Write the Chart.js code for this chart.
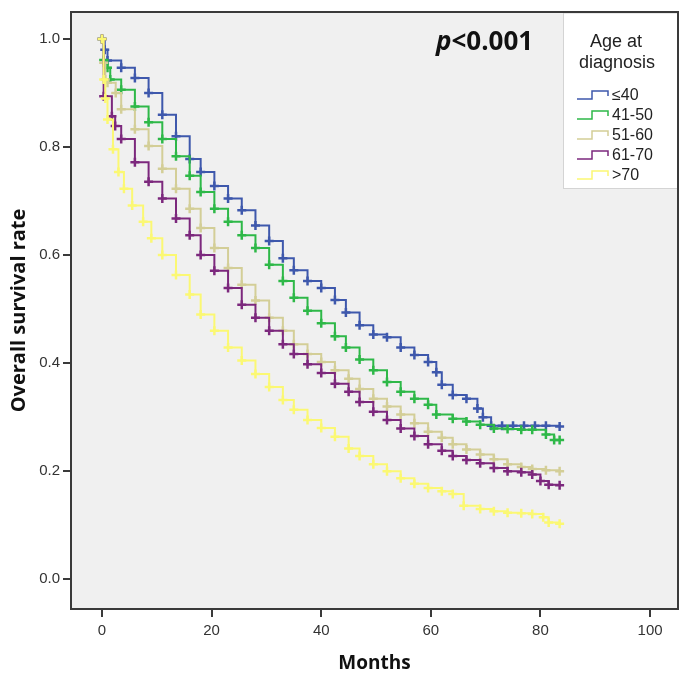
<!DOCTYPE html>
<html>
<head>
<meta charset="utf-8">
<script src="https://cdn.jsdelivr.net/npm/chart.js@4"></script>
<style>
  html, body { margin: 0; padding: 0; background: #ffffff; }
  #wrap { width: 687px; height: 678px; }
</style>
</head>
<body>
<div id="wrap"><canvas id="kmChart" width="687" height="678"></canvas></div>
<script>
// age groups and their colours (SPSS default palette)
const groupLabels = ["\u226440", "41-50", "51-60", "61-70", ">70"];
const groupColors = ["#3e58ac", "#2eb848", "#d3ce97", "#7c287d", "#fbf873"];

// Kaplan-Meier steps: month, survival
const monthsLe40 = [0, 0.5, 1, 3.5, 6, 8.5, 11, 13.5, 16, 18, 20.5, 23, 25.5, 28, 30.5, 33, 35, 37.5, 40, 42.5, 44.5, 47, 49.5, 52, 54.5, 57, 59.5, 61, 62, 64, 66.5, 68.5, 69.5, 71, 73, 75, 77, 79, 81, 83.5];
const survLe40   = [1.0, 0.98, 0.96, 0.947, 0.928, 0.90, 0.86, 0.82, 0.778, 0.754, 0.728, 0.705, 0.683, 0.655, 0.626, 0.594, 0.572, 0.552, 0.539, 0.517, 0.494, 0.47, 0.453, 0.448, 0.429, 0.415, 0.402, 0.383, 0.36, 0.341, 0.334, 0.316, 0.30, 0.284, 0.284, 0.284, 0.284, 0.284, 0.284, 0.283];

const months4150 = [0, 0.3, 1, 1.5, 3.5, 6, 8.5, 11, 13.5, 16, 18, 20.5, 23, 25.5, 28, 30.5, 33, 35, 37.5, 40, 42.5, 44.5, 47, 49.5, 52, 54.5, 57, 59.5, 61, 64, 66.5, 69, 71.5, 74, 76.5, 78.5, 81, 82.5, 83.5];
const surv4150   = [1.0, 0.961, 0.947, 0.925, 0.906, 0.875, 0.846, 0.815, 0.783, 0.747, 0.717, 0.686, 0.662, 0.637, 0.613, 0.582, 0.552, 0.521, 0.497, 0.474, 0.45, 0.429, 0.407, 0.387, 0.365, 0.347, 0.334, 0.323, 0.305, 0.297, 0.292, 0.286, 0.279, 0.278, 0.277, 0.277, 0.268, 0.258, 0.258];

const months5160 = [0, 0.3, 0.6, 1, 2.5, 3.5, 6, 8.5, 11, 13.5, 16, 18, 20.5, 23, 25.5, 28, 30.5, 33, 35, 37.5, 40, 42.5, 45, 47, 49.5, 52, 54.5, 57, 59.5, 62, 64, 66.5, 69, 71.5, 74, 76.5, 78.5, 81, 83.5];
const surv5160   = [1.0, 0.956, 0.925, 0.919, 0.90, 0.87, 0.833, 0.802, 0.76, 0.723, 0.686, 0.65, 0.613, 0.576, 0.545, 0.516, 0.484, 0.46, 0.435, 0.417, 0.402, 0.387, 0.371, 0.352, 0.334, 0.32, 0.305, 0.289, 0.273, 0.262, 0.25, 0.24, 0.231, 0.222, 0.213, 0.208, 0.204, 0.202, 0.20];

const months6170 = [0, 0.3, 1.8, 2.4, 3.5, 6, 8.5, 11, 13.5, 16, 18, 20.5, 23, 25.5, 28, 30.5, 33, 35, 37.5, 40, 42.5, 45, 47, 49.5, 52, 54.5, 57, 59.5, 62, 64, 66.5, 69, 71.5, 74, 76.5, 78.5, 80, 81.5, 83.5];
const surv6170   = [1.0, 0.894, 0.857, 0.839, 0.815, 0.772, 0.736, 0.705, 0.668, 0.637, 0.60, 0.571, 0.539, 0.508, 0.484, 0.46, 0.435, 0.417, 0.398, 0.382, 0.362, 0.347, 0.328, 0.31, 0.295, 0.279, 0.265, 0.25, 0.238, 0.228, 0.221, 0.215, 0.206, 0.20, 0.198, 0.194, 0.182, 0.175, 0.174];

const monthsGt70 = [0, 0.3, 0.6, 1, 2, 3, 4, 5.5, 7.5, 9, 11, 13.5, 16, 18, 20.5, 23, 25.5, 28, 30.5, 33, 35, 37.5, 40, 42.5, 45, 47, 49.5, 52, 54.5, 57, 59.5, 62, 64, 66, 69, 71.5, 74, 76.5, 78.5, 80.5, 81.5, 83.5];
const survGt70   = [1.0, 0.925, 0.89, 0.851, 0.796, 0.754, 0.723, 0.692, 0.662, 0.631, 0.60, 0.563, 0.527, 0.49, 0.46, 0.429, 0.405, 0.38, 0.356, 0.332, 0.314, 0.295, 0.28, 0.264, 0.242, 0.228, 0.213, 0.20, 0.187, 0.177, 0.169, 0.163, 0.158, 0.136, 0.13, 0.126, 0.123, 0.122, 0.121, 0.115, 0.105, 0.103];

const xTicks = [0, 20, 40, 60, 80, 100];
const yTicks = [0, 0.2, 0.4, 0.6, 0.8, 1.0];
const pText = "<0.001";

const allMonths = [monthsLe40, months4150, months5160, months6170, monthsGt70];
const allSurv = [survLe40, surv4150, surv5160, surv6170, survGt70];

const datasets = groupLabels.map((lab, i) => ({
    label: lab,
    data: allMonths[i].map((m, j) => ({ x: m, y: allSurv[i][j] })),
    borderColor: groupColors[i],
    backgroundColor: groupColors[i],
    borderWidth: 2,
    stepped: "before",
    fill: false,
    pointStyle: "cross",
    pointRadius: 4.5,
    pointBorderWidth: 2.5,
    pointBorderColor: groupColors[i],
    order: 4 - i
}));

const frame = {
    id: "frame",
    beforeDraw(chart) {
        const { ctx, chartArea: a } = chart;
        ctx.save();
        ctx.fillStyle = "#f0f0f0";
        ctx.fillRect(a.left, a.top, a.right - a.left, a.bottom - a.top);
        ctx.restore();
    },
    afterDraw(chart) {
        const { ctx, chartArea: a } = chart;
        ctx.save();
        // legend box
        const lx = 563, ly = a.top + 1, lw = a.right - 563, lh = 188 - ly;
        ctx.fillStyle = "#ffffff";
        ctx.fillRect(lx, ly, lw, lh);
        ctx.strokeStyle = "#d4d4d4";
        ctx.lineWidth = 1;
        ctx.strokeRect(lx + 0.5, ly, lw, lh + 0.5);
        ctx.fillStyle = "#222";
        ctx.textAlign = "center";
        ctx.textBaseline = "middle";
        ctx.font = "18px 'Liberation Sans'";
        ctx.fillText("Age at", 616, 42);
        ctx.fillText("diagnosis", 617, 63);
        ctx.textAlign = "left";
        ctx.font = "16px 'Liberation Sans'";
        groupLabels.forEach((lab, i) => {
            const y = 95 + i * 20;
            ctx.strokeStyle = groupColors[i];
            ctx.lineWidth = 1.5;
            ctx.beginPath();
            ctx.moveTo(577, y + 4);
            ctx.lineTo(592, y + 4);
            ctx.lineTo(592, y - 4);
            ctx.lineTo(608, y - 4);
            ctx.lineTo(608, y + 1);
            ctx.stroke();
            ctx.fillStyle = "#222";
            ctx.fillText(lab, 612, y + 1);
        });
        // p value
        ctx.textBaseline = "middle";
        ctx.fillStyle = "#111";
        ctx.font = "italic bold 26px 'Open Sans'";
        ctx.fillText("p", 436, 43);
        const pw = ctx.measureText("p").width;
        ctx.font = "bold 26px 'Open Sans'";
        ctx.fillText(pText, 436 + pw, 43);
        // plot frame
        ctx.strokeStyle = "#3a3a3a";
        ctx.lineWidth = 2;
        ctx.strokeRect(a.left, a.top, a.right - a.left, a.bottom - a.top);
        ctx.restore();
    }
};

const ctx = document.getElementById("kmChart").getContext("2d");
new Chart(ctx, {
    type: "line",
    data: { datasets: datasets },
    plugins: [frame],
    options: {
        responsive: false,
        animation: false,
        layout: { padding: { top: 7, right: 9, left: 0, bottom: 0 } },
        scales: {
            x: {
                type: "linear",
                min: -5.66,
                max: 105.1,
                afterBuildTicks: s => { s.ticks = xTicks.map(v => ({ value: v })); },
                afterFit: s => { s.height = 69; },
                border: { display: false },
                grid: { drawOnChartArea: false, drawTicks: true, tickLength: 8, tickColor: "#3a3a3a", lineWidth: 2 },
                ticks: { color: "#333", font: { family: "Liberation Sans", size: 15 }, padding: 5, maxRotation: 0 },
                title: { display: true, text: "Months", color: "#111", font: { family: "Open Sans", size: 19, weight: "bold" }, padding: { bottom: 3 } }
            },
            y: {
                type: "linear",
                min: -0.055,
                max: 1.05,
                afterBuildTicks: s => { s.ticks = yTicks.map(v => ({ value: v })); },
                afterFit: s => { s.width = 71; },
                border: { display: false },
                grid: { drawOnChartArea: false, drawTicks: true, tickLength: 8, tickColor: "#3a3a3a", lineWidth: 2 },
                ticks: { color: "#333", font: { family: "Liberation Sans", size: 15 }, padding: 3, callback: v => v.toFixed(1) },
                title: { display: true, text: "Overall survival rate", color: "#111", font: { family: "Open Sans", size: 20, weight: "bold" }, padding: { top: 7 } }
            }
        },
        plugins: {
            legend: { display: false },
            tooltip: { enabled: false }
        }
    }
});
</script>
</body>
</html>
